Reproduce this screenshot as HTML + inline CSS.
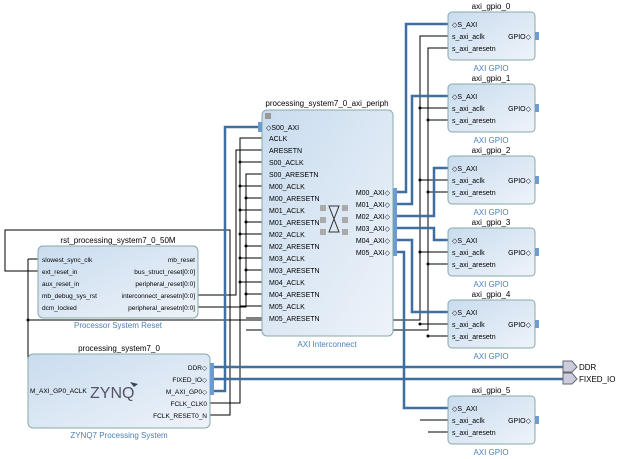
<!DOCTYPE html>
<html><head><style>body{margin:0;background:#fff}svg{display:block}text{font-family:"Liberation Sans",sans-serif;font-size:8px;fill:#000}.s text{font-size:7px}.t text{font-size:6.5px}.b{fill:#4a7fb5}</style></head><body>
<svg width="620" height="459" xmlns="http://www.w3.org/2000/svg">
<defs><linearGradient id="g" x1="0" y1="0" x2="1" y2="1"><stop offset="0" stop-color="#c9dcef"/><stop offset="1" stop-color="#eef3f9"/></linearGradient></defs>
<g fill="none" stroke="#000" stroke-width="1">
<path d="M210 403 H240 V138 H262 M240 162 H262 M240 186 H262 M240 210 H262 M240 234 H262 M240 258 H262 M240 282 H262 M240 306 H262"/>
<path d="M210 415 H230 V230 H5 V271 H38"/>
<path d="M198 295 H236 V150 H262"/>
<path d="M198 307 H246 V174 H262 M246 198 H262 M246 222 H262 M246 246 H262 M246 270 H262 M246 294 H262 M246 318 H262"/>
<path d="M240 320 H28 V391 H28"/>
<path d="M28 259 H38 M28 259 V391 H36"/>
<path d="M240 320 H420 V36 H448 M420 108 H448 M420 180 H448 M420 252 H448 M420 324 H448 M420 420 H448"/>
<path d="M246 330 H428 V48 H448 M428 120 H448 M428 192 H448 M428 264 H448 M428 336 H448 M428 432 H448"/>
</g>
<g fill="#000"><circle cx="240" cy="162" r="1.5"/><circle cx="240" cy="186" r="1.5"/><circle cx="240" cy="210" r="1.5"/><circle cx="240" cy="234" r="1.5"/><circle cx="240" cy="258" r="1.5"/><circle cx="240" cy="282" r="1.5"/><circle cx="246" cy="198" r="1.5"/><circle cx="246" cy="222" r="1.5"/><circle cx="246" cy="246" r="1.5"/><circle cx="246" cy="270" r="1.5"/><circle cx="246" cy="294" r="1.5"/><circle cx="28" cy="320" r="1.5"/><circle cx="420" cy="108" r="1.5"/><circle cx="420" cy="180" r="1.5"/><circle cx="420" cy="252" r="1.5"/><circle cx="420" cy="324" r="1.5"/><circle cx="428" cy="120" r="1.5"/><circle cx="428" cy="192" r="1.5"/><circle cx="428" cy="264" r="1.5"/><circle cx="428" cy="336" r="1.5"/></g>
<g fill="none" stroke="#3f6f9f" stroke-width="2.5">
<path d="M210 391 H225 V127 H262"/>
<path d="M397 192 H406 V24 H448"/>
<path d="M397 204 H412 V96 H448"/>
<path d="M397 216 H434 V168 H448"/>
<path d="M397 228 H434 V240 H448"/>
<path d="M397 240 H412 V312 H448"/>
<path d="M397 252 H404 V408 H448"/>
<path d="M214 367 H563 M214 379 H563"/>
</g>
<g>
<rect x="448" y="12" width="87" height="48" rx="4" fill="url(#g)" stroke="#8aa"/>
<rect x="448" y="84" width="87" height="48" rx="4" fill="url(#g)" stroke="#8aa"/>
<rect x="448" y="156" width="87" height="48" rx="4" fill="url(#g)" stroke="#8aa"/>
<rect x="448" y="228" width="87" height="48" rx="4" fill="url(#g)" stroke="#8aa"/>
<rect x="448" y="300" width="87" height="48" rx="4" fill="url(#g)" stroke="#8aa"/>
<rect x="448" y="396" width="87" height="48" rx="4" fill="url(#g)" stroke="#8aa"/>
<rect x="262" y="110" width="131" height="226" rx="5" fill="url(#g)" stroke="#8aa"/>
<rect x="38" y="246" width="160" height="72" rx="5" fill="url(#g)" stroke="#8aa"/>
<rect x="28" y="354" width="182" height="74" rx="5" fill="url(#g)" stroke="#8aa"/>
</g>
<g fill="#6b9bd1"><rect x="535" y="32" width="4" height="8"/><rect x="535" y="104" width="4" height="8"/><rect x="535" y="176" width="4" height="8"/><rect x="535" y="248" width="4" height="8"/><rect x="535" y="320" width="4" height="8"/><rect x="535" y="416" width="4" height="8"/><rect x="393" y="188" width="4" height="68"/><rect x="210" y="363" width="4" height="32"/><rect x="258" y="122" width="4" height="10"/></g>
<g fill="#ccd" stroke="#667"><path d="M563 361 H572 L577 367 L572 372 H563Z"/><path d="M563 373 H572 L577 379 L572 384 H563Z"/></g>
<text x="579" y="370">DDR</text><text x="579" y="382">FIXED_IO</text>
<g>
<text x="491" y="9" text-anchor="middle">axi_gpio_0</text><text x="491" y="81" text-anchor="middle">axi_gpio_1</text><text x="491" y="153" text-anchor="middle">axi_gpio_2</text><text x="491" y="225" text-anchor="middle">axi_gpio_3</text><text x="491" y="297" text-anchor="middle">axi_gpio_4</text><text x="491" y="393" text-anchor="middle">axi_gpio_5</text>
</g>
<g><text x="491" y="71" text-anchor="middle" class="b">AXI GPIO</text><text x="491" y="143" text-anchor="middle" class="b">AXI GPIO</text><text x="491" y="215" text-anchor="middle" class="b">AXI GPIO</text><text x="491" y="287" text-anchor="middle" class="b">AXI GPIO</text><text x="491" y="359" text-anchor="middle" class="b">AXI GPIO</text><text x="491" y="455" text-anchor="middle" class="b">AXI GPIO</text>
<text x="327" y="347" text-anchor="middle" class="b">AXI Interconnect</text><text x="118" y="328" text-anchor="middle" class="b">Processor System Reset</text><text x="119" y="438" text-anchor="middle" class="b">ZYNQ7 Processing System</text></g>
<g class="s">
<text x="452" y="27">◇S_AXI</text><text x="452" y="39">s_axi_aclk</text><text x="452" y="51">s_axi_aresetn</text><text x="531" y="39" text-anchor="end">GPIO◇</text>
<text x="452" y="99">◇S_AXI</text><text x="452" y="111">s_axi_aclk</text><text x="452" y="123">s_axi_aresetn</text><text x="531" y="111" text-anchor="end">GPIO◇</text>
<text x="452" y="171">◇S_AXI</text><text x="452" y="183">s_axi_aclk</text><text x="452" y="195">s_axi_aresetn</text><text x="531" y="183" text-anchor="end">GPIO◇</text>
<text x="452" y="243">◇S_AXI</text><text x="452" y="255">s_axi_aclk</text><text x="452" y="267">s_axi_aresetn</text><text x="531" y="255" text-anchor="end">GPIO◇</text>
<text x="452" y="315">◇S_AXI</text><text x="452" y="327">s_axi_aclk</text><text x="452" y="339">s_axi_aresetn</text><text x="531" y="327" text-anchor="end">GPIO◇</text>
<text x="452" y="411">◇S_AXI</text><text x="452" y="423">s_axi_aclk</text><text x="452" y="435">s_axi_aresetn</text><text x="531" y="423" text-anchor="end">GPIO◇</text>
<text x="266" y="130">◇S00_AXI</text><text x="269" y="141">ACLK</text><text x="269" y="153">ARESETN</text><text x="269" y="165">S00_ACLK</text><text x="269" y="177">S00_ARESETN</text><text x="269" y="189">M00_ACLK</text><text x="269" y="201">M00_ARESETN</text><text x="269" y="213">M01_ACLK</text><text x="269" y="225">M01_ARESETN</text><text x="269" y="237">M02_ACLK</text><text x="269" y="249">M02_ARESETN</text><text x="269" y="261">M03_ACLK</text><text x="269" y="273">M03_ARESETN</text><text x="269" y="285">M04_ACLK</text><text x="269" y="297">M04_ARESETN</text><text x="269" y="309">M05_ACLK</text><text x="269" y="321">M05_ARESETN</text>
<text x="390" y="195" text-anchor="end">M00_AXI◇</text><text x="390" y="207" text-anchor="end">M01_AXI◇</text><text x="390" y="219" text-anchor="end">M02_AXI◇</text><text x="390" y="231" text-anchor="end">M03_AXI◇</text><text x="390" y="243" text-anchor="end">M04_AXI◇</text><text x="390" y="255" text-anchor="end">M05_AXI◇</text>
</g>
<g class="t">
<text x="42" y="262">slowest_sync_clk</text><text x="42" y="274">ext_reset_in</text><text x="42" y="286">aux_reset_in</text><text x="42" y="298">mb_debug_sys_rst</text><text x="42" y="310">dcm_locked</text>
<text x="195" y="262" text-anchor="end">mb_reset</text><text x="195" y="274" text-anchor="end">bus_struct_reset[0:0]</text><text x="195" y="286" text-anchor="end">peripheral_reset[0:0]</text><text x="195" y="298" text-anchor="end">interconnect_aresetn[0:0]</text><text x="195" y="310" text-anchor="end">peripheral_aresetn[0:0]</text>
<text x="30" y="393">M_AXI_GP0_ACLK</text><text x="207" y="370" text-anchor="end">DDR◇</text><text x="207" y="382" text-anchor="end">FIXED_IO◇</text><text x="207" y="394" text-anchor="end">M_AXI_GP0◇</text><text x="207" y="406" text-anchor="end">FCLK_CLK0</text><text x="207" y="418" text-anchor="end">FCLK_RESET0_N</text>
</g>
<text x="327" y="106" text-anchor="middle">processing_system7_0_axi_periph</text>
<text x="118" y="243" text-anchor="middle">rst_processing_system7_0_50M</text>
<text x="119" y="351" text-anchor="middle">processing_system7_0</text>
<text x="90" y="398" style="font-size:16px;fill:#556">ZYNQ</text><path d="M130 382 l8 2 l-4 3z" fill="#345"/>
<rect x="265" y="113" width="6" height="6" fill="#999"/>
<g fill="#aaa"><rect x="320" y="205" width="6" height="6"/><rect x="320" y="217" width="6" height="6"/><rect x="320" y="229" width="6" height="6"/><rect x="342" y="205" width="6" height="6"/><rect x="342" y="217" width="6" height="6"/><rect x="342" y="229" width="6" height="6"/></g>
<path d="M329 206 H339 L329 232 H339Z" fill="none" stroke="#333"/>
</svg>
</body></html>
